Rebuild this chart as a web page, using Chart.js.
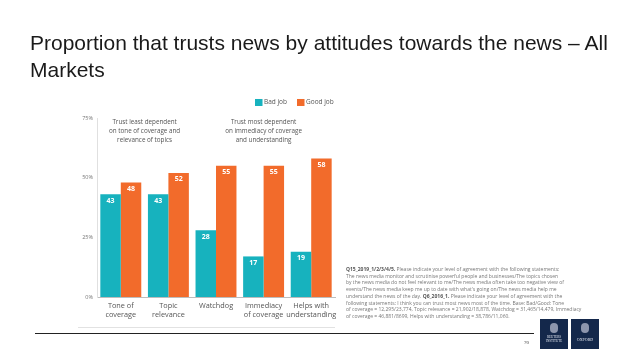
<!DOCTYPE html>
<html>
<head>
<meta charset="utf-8">
<script src="https://cdn.jsdelivr.net/npm/chart.js@4/dist/chart.umd.min.js"></script>
<style>
  html, body { margin:0; padding:0; background:#fff; }
  #wrap { position:relative; width:638px; height:359px; overflow:hidden; }
  #c { position:absolute; left:0; top:0; }
  #title { position:absolute; left:30px; top:29px; font-family:"Liberation Sans", Arial, sans-serif; font-size:21px; line-height:27px; color:#1a1a1a; width:605px; }
  #foot { position:absolute; left:346px; top:266px; font-family:"Open Sans", sans-serif; font-size:5px; line-height:6.7px; color:#777; white-space:nowrap; }
  #foot b { color:#555; }
  #rule { position:absolute; left:35px; top:333px; width:499px; height:1px; background:#222; }
  #pg { position:absolute; left:524px; top:340px; font-family:"Liberation Serif", serif; font-size:5px; color:#333; }
  .logo { position:absolute; top:319px; width:28px; height:30px; background:#14284b; color:#dfe4ee; font-family:"Liberation Serif", serif; text-align:center; }
  .logo .crest { position:absolute; left:10px; top:4px; width:8px; height:10px; border-radius:4px; background:#8d96ad; }
  .logo .t { position:absolute; left:0; width:28px; top:17px; font-size:3.2px; line-height:3.6px; }
</style>
</head>
<body>
<div id="wrap">
  <canvas id="c" width="638" height="359"></canvas>
  <div id="title">Proportion that trusts news by attitudes towards the news – All Markets</div>
  <div id="foot"><b>Q15_2019_1/2/3/4/5.</b> Please indicate your level of agreement with the following statements:<br>The news media monitor and scrutinise powerful people and businesses/The topics chosen<br>by the news media do not feel relevant to me/The news media often take too negative view of<br>events/The news media keep me up to date with what's going on/The news media help me<br>understand the news of the day. <b>Q6_2016_1.</b> Please indicate your level of agreement with the<br>following statements: I think you can trust most news most of the time. Base: Bad/Good: Tone<br>of coverage = 12,295/23,774, Topic relevance = 21,902/18,878, Watchdog = 31,465/14,479, Immediacy<br>of coverage = 46,881/8699, Helps with understanding = 38,786/11,060.</div>
  <div id="rule"></div>
  <div id="pg">70</div>
  <div class="logo" style="left:540px"><div class="crest"></div><div class="t">REUTERS<br>INSTITUTE</div></div>
  <div class="logo" style="left:571px"><div class="crest"></div><div class="t" style="top:19px;font-size:4px;">OXFORD</div></div>
</div>
<script>
const categories = [["Tone of","coverage"],["Topic","relevance"],["Watchdog"],["Immediacy","of coverage"],["Helps with","understanding"]];
const badJob = [43, 43, 28, 17, 19];
const goodJob = [48, 52, 55, 55, 58];
const seriesNames = ["Bad job", "Good job"];
const yTicks = [0, 25, 50, 75];
const noteLeft = ["Trust least dependent", "on tone of coverage and", "relevance of topics"];
const noteRight = ["Trust most dependent", "on immediacy of coverage", "and understanding"];

const TEAL = "#17b2be";
const ORANGE = "#f26b2b";
const FONT = "'Open Sans', sans-serif";

const extras = {
  id: "extras",
  afterDatasetsDraw(chart) {
    const ctx = chart.ctx;
    const xs = chart.scales.x, ys = chart.scales.y;
    ctx.save();
    ctx.fillStyle = "#fff";
    ctx.font = "bold 7px " + FONT;
    ctx.textAlign = "center";
    ctx.textBaseline = "top";
    chart.data.datasets.forEach((ds, di) => {
      chart.getDatasetMeta(di).data.forEach((el, i) => {
        ctx.fillText(String(ds.data[i]), el.x, el.y + 3);
      });
    });
    ctx.fillStyle = "#555";
    ctx.font = "6.3px " + FONT;
    ctx.textBaseline = "middle";
    const xl = (xs.getPixelForValue(0) + xs.getPixelForValue(1)) / 2;
    const xr = xs.getPixelForValue(3);
    noteLeft.forEach((t, i) => ctx.fillText(t, xl, ys.getPixelForValue(73.3 - i * 3.8)));
    noteRight.forEach((t, i) => ctx.fillText(t, xr, ys.getPixelForValue(73.3 - i * 3.8)));
    ctx.textAlign = "left";
    ctx.font = "6.5px " + FONT;
    const ly = ys.getPixelForValue(81.5);
    const entries = [[seriesNames[0], TEAL, 255], [seriesNames[1], ORANGE, 297]];
    entries.forEach(([name, col, x]) => {
      ctx.fillStyle = col;
      ctx.fillRect(x, ly - 3.5, 7.5, 7);
      ctx.fillStyle = "#555";
      ctx.fillText(name, x + 9, ly);
    });
    ctx.strokeStyle = "#e2e2e2";
    ctx.lineWidth = 1;
    ctx.beginPath();
    ctx.moveTo(78, 327.5);
    ctx.lineTo(335, 327.5);
    ctx.stroke();
    ctx.restore();
  }
};

new Chart(document.getElementById("c"), {
  type: "bar",
  data: {
    labels: categories,
    datasets: [
      { label: seriesNames[0], data: badJob, backgroundColor: TEAL, categoryPercentage: 0.86, barPercentage: 1.0 },
      { label: seriesNames[1], data: goodJob, backgroundColor: ORANGE, categoryPercentage: 0.86, barPercentage: 1.0 }
    ]
  },
  options: {
    responsive: false,
    animation: false,
    events: [],
    layout: { padding: { left: 0, right: 303, top: 118, bottom: 0 } },
    plugins: { legend: { display: false }, tooltip: { enabled: false } },
    scales: {
      x: {
        afterFit(s) { s.height = 62; },
        grid: { display: false, drawTicks: false },
        border: { display: true, color: "#bdbdbd", width: 1 },
        ticks: { color: "#555", font: { family: FONT, size: 7.3 }, padding: 4.5, maxRotation: 0, autoSkip: false }
      },
      y: {
        min: 0, max: 75,
        afterFit(s) { s.width = 97; },
        afterBuildTicks(s) { s.ticks = yTicks.map(v => ({ value: v })); },
        grid: { display: false, drawTicks: false },
        border: { display: true, color: "#e0e0e0", width: 1 },
        ticks: { color: "#777", font: { family: FONT, size: 5.5 }, padding: 4, callback: v => v + "%" }
      }
    }
  },
  plugins: [extras]
});
</script>
</body>
</html>
